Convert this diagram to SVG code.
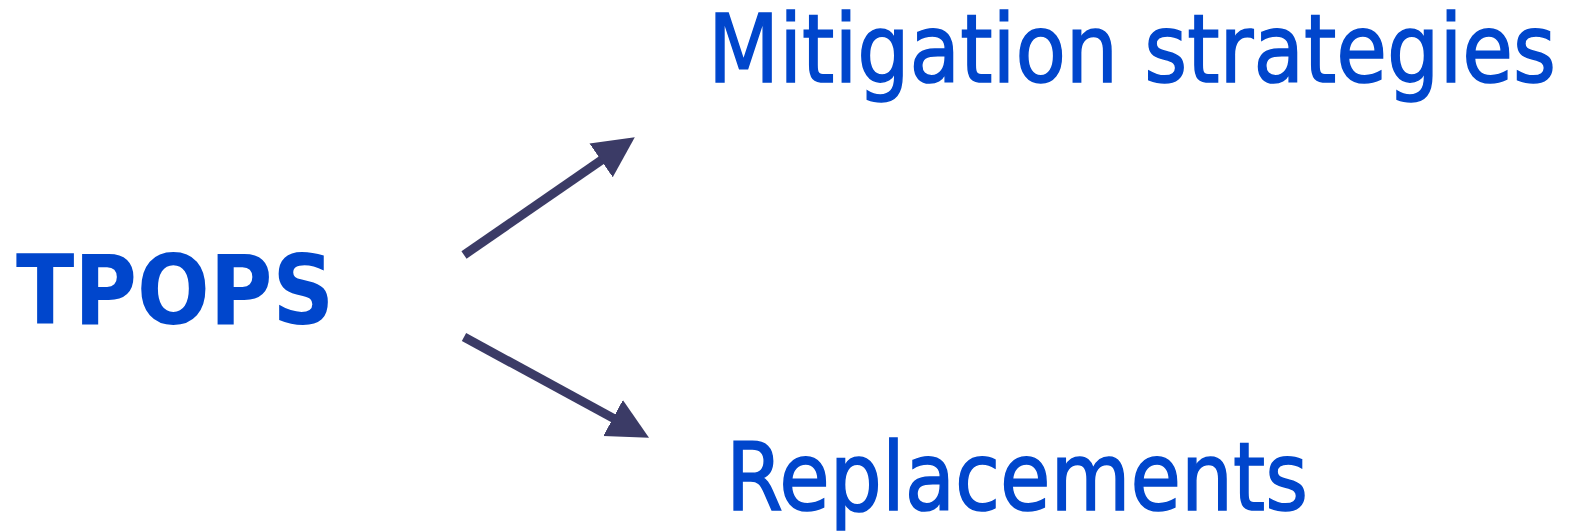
<svg xmlns="http://www.w3.org/2000/svg" width="1573" height="531" viewBox="0 0 1573 531">
  <style>
    .label { fill: #0046CC; font-family: "DejaVu Sans", "Liberation Sans", sans-serif; }
    .main { font-weight: bold; font-size: 97px; }
    .target { font-size: 95px; stroke: #0046CC; stroke-width: 1.6; }
    .link { stroke: #3B3B66; stroke-width: 9; fill: none; }
  </style>
  <defs>
    <marker id="head" markerUnits="userSpaceOnUse" markerWidth="42" markerHeight="42" viewBox="0 -19 39 38" refX="1" refY="0" orient="auto">
      <path d="M0,-19 L38,0 L0,19 Z" fill="#3B3B66"/>
    </marker>
  </defs>
  <rect width="1573" height="531" fill="#FFFFFF"/>

  <g id="tpops">
    <text class="label main" x="16" y="324" textLength="318" lengthAdjust="spacingAndGlyphs">TPOPS</text>
  </g>

  <g id="mitigation">
    <text class="label target" x="708" y="82" textLength="848" lengthAdjust="spacingAndGlyphs">Mitigation strategies</text>
  </g>

  <g id="replacements">
    <text class="label target" x="726" y="510" textLength="582" lengthAdjust="spacingAndGlyphs">Replacements</text>
  </g>

  <g id="connectors">
    <line class="link" x1="464" y1="255" x2="602" y2="159.8" marker-end="url(#head)"/>
    <line class="link" x1="464" y1="337" x2="614" y2="418.6" marker-end="url(#head)"/>
  </g>
</svg>
